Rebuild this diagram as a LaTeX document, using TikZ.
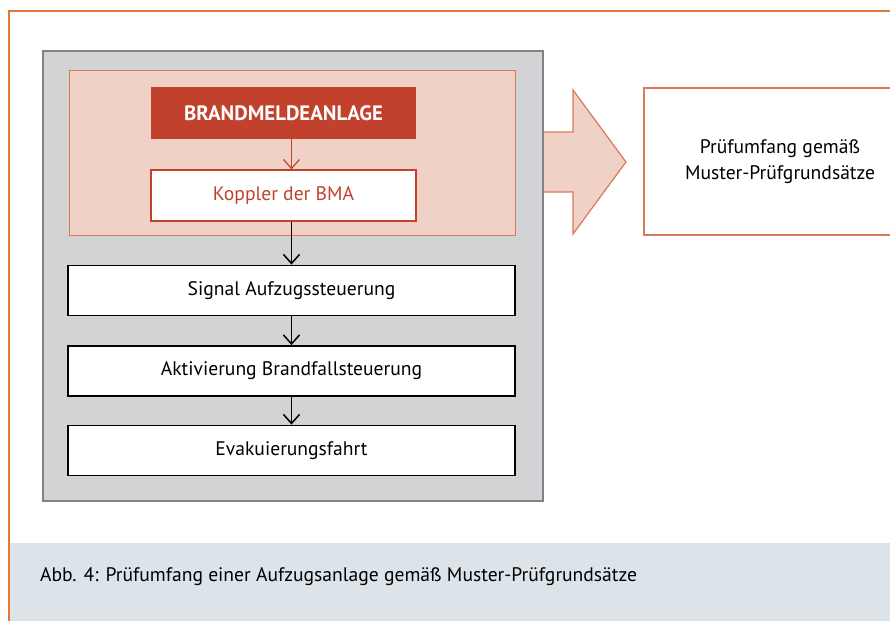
\documentclass[tikz,border=0pt]{standalone}
\usepackage{fontspec}
\setmainfont{PT Sans}
\usepackage{tikz}
\usetikzlibrary{positioning,arrows.meta}
\definecolor{bmared}{HTML}{C2412D}
\definecolor{bmapink}{HTML}{EFD2C5}
\definecolor{bmaline}{HTML}{D9785A}
\definecolor{framegray}{HTML}{D1D3D4}
\definecolor{frameline}{HTML}{808285}
\definecolor{pageorange}{HTML}{E07A35}
\definecolor{captionbg}{HTML}{DDE4E9}

\begin{document}
\begin{tikzpicture}[x=0.5pt,y=-0.5pt,node distance=15pt,
  >={Straight Barb[length=4.5pt,width=8pt]},
  every node/.style={font=\fontsize{9.8}{13}\selectfont},
  stepbox/.style={draw=black,fill=white,line width=0.75pt,minimum width=223.5pt,minimum height=25pt},
  alarmbox/.style={fill=bmared,text=white,font=\fontsize{10.4}{13}\selectfont\bfseries,minimum width=132.5pt,minimum height=26pt},
  couplerbox/.style={draw=bmared,fill=white,text=bmared,line width=0.6pt,minimum width=132.5pt,minimum height=25.5pt},
  scopebox/.style={draw=bmaline,fill=white,line width=0.6pt,align=center,minimum width=136pt,minimum height=73.5pt}]
  \clip (0,0) rectangle (890,621);
  \useasboundingbox (0,0) rectangle (890,621);
  % frame and caption band
  \fill[captionbg] (10,543) rectangle (890,621);
  \draw[pageorange,line width=1pt] (9,621) -- (9,11) -- (890,11);
  \node[anchor=west] (caption) at (33,577) {Abb. 4: Prüfumfang einer Aufzugsanlage gemäß Muster-Prüfgrundsätze};
  % gray and pink areas
  \draw[frameline,fill=framegray,line width=1pt] (43,51) rectangle (543,501);
  \draw[bmaline,fill=bmapink,line width=0.5pt] (69,70) rectangle (515,235);
  % big arrow
  \draw[bmaline,fill=bmapink,line width=0.6pt] (544,132) -- (573,132) -- (573,90) -- (626,162)
    -- (573,234) -- (573,192) -- (544,192);
  % boxes
  \node[alarmbox] (bma) at (283.5,113) {BRANDMELDEANLAGE};
  \node[couplerbox, below=15pt of bma] (koppler) {Koppler der BMA};
  \node[stepbox, below=21.5pt of koppler, xshift=4pt] (signal) {Signal Aufzugssteuerung};
  \node[stepbox, below=14.5pt of signal] (brandfall) {Aktivierung Brandfallsteuerung};
  \node[stepbox, below=14pt of brandfall] (evak) {Evakuierungsfahrt};
  \node[scopebox] (scope) at (780,161.5) {Prüfumfang gemäß\\Muster-Prüfgrundsätze};
  % arrows
  \draw[->,bmared,line width=0.6pt] (bma.south -| signal.north) -- (koppler.north -| signal.north);
  \draw[->,line width=0.75pt] (koppler.south -| signal.north) -- (signal.north);
  \draw[->,line width=0.75pt] (signal) -- (brandfall);
  \draw[->,line width=0.75pt] (brandfall) -- (evak);
\end{tikzpicture}
\end{document}
